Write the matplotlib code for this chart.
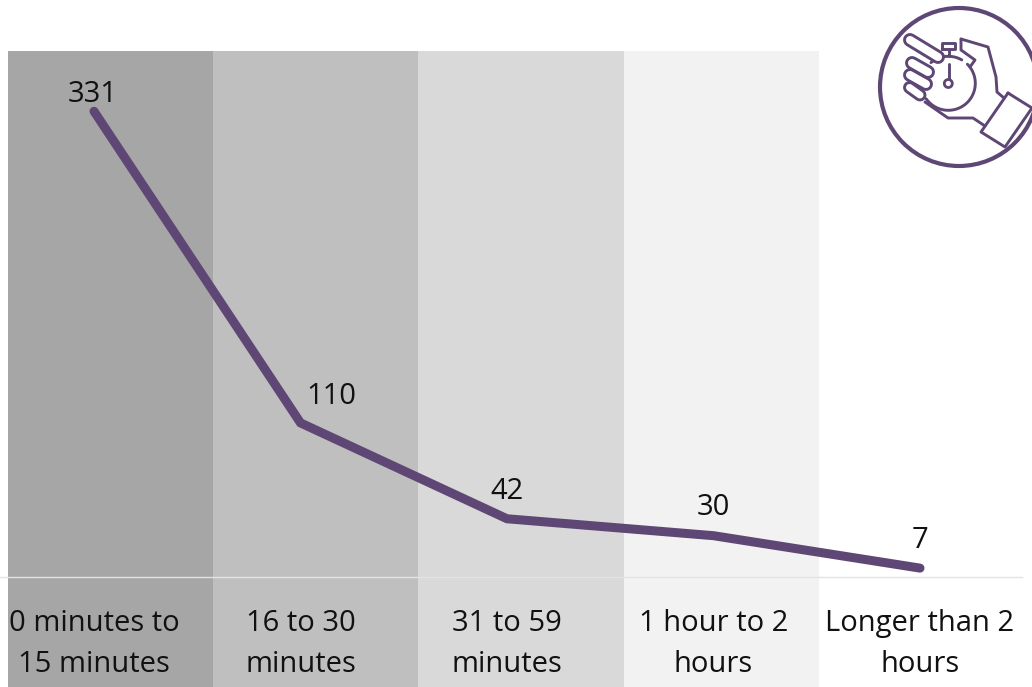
import matplotlib
matplotlib.use("Agg")
import matplotlib.pyplot as plt
from matplotlib.patches import Rectangle, Circle
import numpy as np

categories = ["0 minutes to\n15 minutes", "16 to 30\nminutes", "31 to 59\nminutes",
              "1 hour to 2\nhours", "Longer than 2\nhours"]
values = [331, 110, 42, 30, 7]
band_colors = ["#a6a6a6", "#bfbfbf", "#d9d9d9", "#f2f2f2"]
band_edges = [8, 213, 418, 624, 819]
# label offsets from each point, in pixels
label_dx = [-1, 31, 0, 0, 0]
label_dy = [17, 26, 27, 28, 28]

W, H = 1032, 687
PURPLE = "#5f4775"
FS = 21
plt.rcParams["font.family"] = ["Open Sans", "DejaVu Sans"]

fig = plt.figure(figsize=(W / 100, H / 100), dpi=100)

# background bands, in pixels
for i, c in enumerate(band_colors):
    fig.add_artist(Rectangle((band_edges[i] / W, 0), (band_edges[i + 1] - band_edges[i]) / W, (H - 51) / H,
                             transform=fig.transFigure, color=c, lw=0, zorder=-1))

# main axes: bottom edge sits on the pale baseline
x0, dx = 94, 206.5
base = 577
ax = fig.add_axes([0, (H - base) / H, 1, base / H])
ax.patch.set_visible(False)
ax.set_xlim(-x0 / dx, (W - x0) / dx)
ax.set_ylim(0.7, 0.7 + base / 1.41)
xs = np.arange(len(values))
ax.plot(xs, values, color=PURPLE, lw=6.5, solid_capstyle="round", solid_joinstyle="miter", clip_on=False)

for x, v, ox, oy in zip(xs, values, label_dx, label_dy):
    ax.annotate(str(v), (x, v), xytext=(ox * 0.72, oy * 0.72), textcoords="offset points",
                ha="center", va="center", fontsize=FS, color="#111111")

for s in ["top", "left", "right"]:
    ax.spines[s].set_visible(False)
ax.spines["bottom"].set_bounds(-x0 / dx, (1022 - x0) / dx)
ax.spines["bottom"].set_color("#e3e3e3")
ax.spines["bottom"].set_linewidth(1)
ax.set_yticks([])
ax.set_xticks(xs)
ax.set_xticklabels(categories, fontsize=FS, color="#111111", linespacing=1.55)
ax.tick_params(axis="x", length=0, pad=23)

# stopwatch icon, traced in pixels
icon = fig.add_axes([0, 0, 1, 1], zorder=3)
icon.set_xlim(0, W)
icon.set_ylim(H, 0)
icon.axis("off")
icon.patch.set_visible(False)
icon.add_patch(Circle((959, 87), 79, fill=False, ec=PURPLE, lw=3))
icon.add_patch(Circle((948.3, 83.5), 4, fill=False, ec=PURPLE, lw=2))


def stroke(pts, lw=2.1):
    a = np.array(pts)
    icon.plot(a[:, 0], a[:, 1], color=PURPLE, lw=lw, solid_joinstyle="round", solid_capstyle="round")


# watch body
t = np.radians(np.linspace(-145, 45, 60))
stroke(np.c_[948.3 + 27 * np.cos(t), 83.3 - 27 * np.sin(t)])
t = np.radians(np.linspace(60, 130, 20))
stroke(np.c_[948.3 + 27 * np.cos(t), 83.3 - 27 * np.sin(t)])
stroke([(942, 49), (955, 49), (955, 43), (942, 43), (942, 49)])
stroke([(948.5, 49), (948.5, 56)])
stroke([(948.5, 64), (948.5, 79)])

# fingers: a thick stroke with a white core reads as a rounded outline
for p, q, w in [((909.5, 87.5), (920, 95), 10), ((910, 75), (926, 84), 11),
                ((912, 63), (928, 72), 11), ((910, 40), (938, 57), 11)]:
    a = np.array([p, q])
    icon.plot(a[:, 0], a[:, 1], color=PURPLE, lw=w * 0.72 + 2.1, solid_capstyle="round")
    icon.plot(a[:, 0], a[:, 1], color="white", lw=w * 0.72 - 2.1, solid_capstyle="round")

# hand and cuff
stroke([(961, 39), (988, 47), (996, 77), (997, 92), (1004, 98)])
stroke([(961, 39), (961, 50), (975, 60), (970, 67)])
stroke([(925, 102), (948, 118), (973, 118), (985, 126)])
stroke([(1008, 93), (1032, 108), (1005, 147), (981, 132), (1008, 93)])

fig.savefig("out.png", dpi=100)
